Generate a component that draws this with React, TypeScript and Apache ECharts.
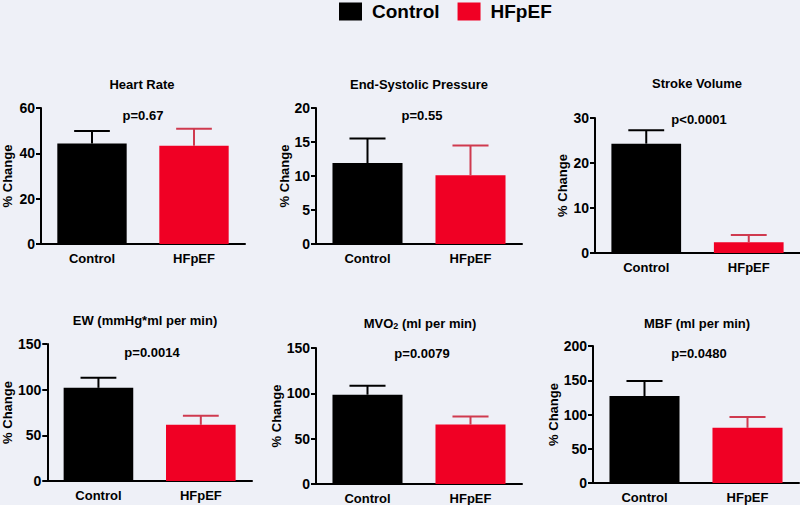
import React, { useEffect, useRef } from "react";
import * as echarts from "echarts";

const categories = ["Control", "HFpEF"];
const panelTitles = ["Heart Rate", "End-Systolic Pressure", "Stroke Volume", "EW (mmHg*ml per min)", "{t|MVO}{s|2}{t| (ml per min)}", "MBF (ml per min)"];
const pLabels = ["p=0.67", "p=0.55", "p<0.0001", "p=0.0014", "p=0.0079", "p=0.0480"];
const controlMean = [44.3, 11.9, 24.3, 102, 98.5, 127];
const controlSem = [5.5, 3.6, 3.0, 11, 10, 22];
const hfpefMean = [43.3, 10.1, 2.4, 61.5, 65.5, 80.5];
const hfpefSem = [7.5, 4.4, 1.6, 10, 9, 16];
const yMax = [60, 20, 30, 150, 150, 200];
const yInterval = [20, 5, 10, 50, 50, 50];
const yAxisName = "% Change";

const FONT = "'Liberation Sans', Arial, sans-serif";
const BG = "#eef0f7";
const BLACK = "#000000";
const RED = "#f00024";
const RED_ERR = "#cf3a4f";

const layout = [
  { left: 40, top: 108, width: 205, height: 136, tx: 142, ty: 84, px: 143, py: 115, gap: 27 },
  { left: 316, top: 108, width: 206, height: 136, tx: 419, ty: 84, px: 422, py: 115, gap: 25 },
  { left: 595, top: 118, width: 205, height: 135, tx: 697, ty: 83, px: 699, py: 119, gap: 26 },
  { left: 45, top: 344, width: 207, height: 137, tx: 145, ty: 320, px: 152, py: 352, gap: 27 },
  { left: 316, top: 348, width: 206, height: 136, tx: 420, ty: 323, px: 422, py: 353, gap: 25 },
  { left: 593, top: 346, width: 206, height: 137, tx: 697, ty: 323, px: 699, py: 353, gap: 26 },
];

export default function App() {
  const ref = useRef<HTMLDivElement>(null);
  useEffect(() => {
    if (!ref.current) return;
    const chart = echarts.init(ref.current, undefined, { renderer: "svg" });
    const grid: any[] = [];
    const xAxis: any[] = [];
    const yAxis: any[] = [];
    const series: any[] = [];
    const graphic: any[] = [];
    layout.forEach((l, i) => {
      grid.push({ left: l.left, top: l.top, width: l.width, height: l.height, containLabel: false });
      xAxis.push({
        type: "category",
        gridIndex: i,
        data: categories,
        axisLine: { lineStyle: { color: BLACK, width: 2 } },
        axisTick: { alignWithLabel: true, length: 5, lineStyle: { color: BLACK, width: 2 } },
        axisLabel: { color: BLACK, fontFamily: FONT, fontWeight: "bold", fontSize: 13, margin: 8 },
        splitLine: { show: false },
      });
      yAxis.push({
        type: "value",
        gridIndex: i,
        min: 0,
        max: yMax[i],
        interval: yInterval[i],
        name: yAxisName,
        nameLocation: "middle",
        nameGap: l.gap,
        nameTextStyle: { color: BLACK, fontFamily: FONT, fontWeight: "bold", fontSize: 13 },
        axisLine: { show: true, lineStyle: { color: BLACK, width: 2 } },
        axisTick: { show: true, length: 5, lineStyle: { color: BLACK, width: 2 } },
        axisLabel: { color: BLACK, fontFamily: FONT, fontWeight: "bold", fontSize: 14, margin: 6 },
        splitLine: { show: false },
      });
      series.push({
        name: "Control",
        type: "bar",
        xAxisIndex: i,
        yAxisIndex: i,
        barWidth: "68%",
        barGap: "-100%",
        itemStyle: { color: BLACK },
        data: [controlMean[i], "-"],
      });
      series.push({
        name: "HFpEF",
        type: "bar",
        xAxisIndex: i,
        yAxisIndex: i,
        barWidth: "68%",
        barGap: "-100%",
        itemStyle: { color: RED },
        data: ["-", hfpefMean[i]],
      });
      series.push({
        name: "err" + i,
        type: "custom",
        xAxisIndex: i,
        yAxisIndex: i,
        z: 5,
        encode: { x: 0, y: 1 },
        data: [
          [0, controlMean[i], controlSem[i]],
          [1, hfpefMean[i], hfpefSem[i]],
        ],
        renderItem: (params: any, api: any) => {
          const x = api.value(0);
          const m = api.value(1);
          const e = api.value(2);
          const p0 = api.coord([x, m]);
          const p1 = api.coord([x, m + e]);
          const half = api.size([1, 0])[0] * 0.175;
          const color = x === 0 ? BLACK : RED_ERR;
          const st = { stroke: color, lineWidth: 2 };
          return {
            type: "group",
            children: [
              { type: "line", shape: { x1: p0[0], y1: p0[1], x2: p1[0], y2: p1[1] }, style: st },
              { type: "line", shape: { x1: p1[0] - half, y1: p1[1], x2: p1[0] + half, y2: p1[1] }, style: st },
            ],
          };
        },
      });
      graphic.push({
        type: "text",
        x: l.tx,
        y: l.ty,
        style: {
          text: panelTitles[i],
          font: `bold 13px ${FONT}`,
          fill: BLACK,
          textAlign: "center",
          textVerticalAlign: "middle",
          rich: {
            t: { fontFamily: FONT, fontWeight: "bold", fontSize: 13, fill: BLACK },
            s: { fontFamily: FONT, fontWeight: "bold", fontSize: 9, fill: BLACK, verticalAlign: "bottom", padding: [6, 0, 0, 0] },
          },
        },
      });
      graphic.push({
        type: "text",
        x: l.px,
        y: l.py,
        style: {
          text: pLabels[i],
          font: `bold 13px ${FONT}`,
          fill: BLACK,
          textAlign: "center",
          textVerticalAlign: "middle",
        },
      });
    });

    chart.setOption({
      animation: false,
      backgroundColor: BG,
      legend: {
        data: ["Control", "HFpEF"],
        left: 339,
        top: 2,
        padding: 0,
        icon: "rect",
        itemWidth: 23,
        itemHeight: 18,
        itemGap: 18,
        textStyle: { color: BLACK, fontFamily: FONT, fontWeight: "bold", fontSize: 19, padding: [0, 0, 0, 5] },
        selectedMode: false,
      },
      grid,
      xAxis,
      yAxis,
      series,
      graphic,
    });
    return () => chart.dispose();
  }, []);
  return <div ref={ref} style={{ position: "fixed", left: 0, top: 0, width: 800, height: 505 }} />;
}
